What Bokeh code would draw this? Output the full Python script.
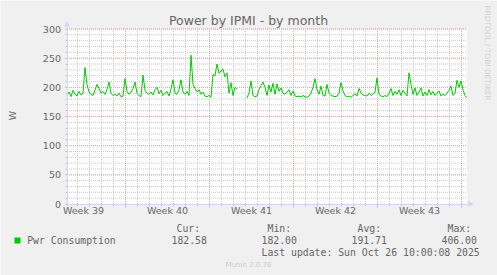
import math
from bokeh.plotting import figure
from bokeh.models import FixedTicker, Label, PolyAnnotation, BoxAnnotation, LinearAxis
from bokeh.embed import file_html
from bokeh.resources import INLINE

NaN = float("nan")

# Power readings (W), one sample every 4 hours over the month window
power_w = [
    186, 192, 184, 195, 188, 185, 193, 187, 190, 234,
    205, 192, 188, 186, 195, 205, 198, 190, 193, 188,
    196, 209, 190, 186, 188, 185, 190, 184, 185, 215,
    193, 188, 192, 198, 209, 190, 186, 184, 221, 195,
    190, 188, 192, 187, 196, 200, 189, 195, 186, 190,
    193, 185, 197, 213, 190, 188, 196, 213, 192, 188,
    193, 186, 255, 205, 198, 192, 196, 188, 192, 185,
    184, 186, 183, 222, 220, 240, 224, 228, 231, 218,
    225, 190, 208, 186, 200, 197, NaN, NaN, NaN, NaN,
    182, 190, 211, 186, 184, 185, 196, 203, 209, 200,
    186, 204, 192, 207, 188, 206, 193, 199, 190, 188,
    192, 196, 186, 194, 185, 184, 185, 184, 186, 184,
    183, 185, 190, 200, 215, 196, 188, 202, 186, 185,
    205, 190, 186, 185, 184, 185, 190, 208, 194, 186,
    184, 185, 183, 186, 189, 185, 198, 190, 187, 186,
    185, 190, 186, 188, 192, 216, 188, 185, 184, 186,
    184, 190, 198, 186, 193, 188, 196, 186, 195, 190,
    185, 225, 205, 188, 199, 186, 192, 199, 185, 192,
    186, 196, 187, 193, 186, 190, 194, 185, 188, 186,
    190, 195, 202, 186, 190, 212, 200, 211, 196, 186,
    182,
]
step_hours = 4
hours = [i * step_hours for i in range(len(power_w))]

week_labels = ["Week 39", "Week 40", "Week 41", "Week 42", "Week 43"]
week_label_hours = [33, 201, 369, 537, 705]
week_start_hours = [117, 285, 453, 621, 789]
day_hours = list(range(21, 800, 24))
y_major = [50, 100, 150, 200, 250, 300]
y_minor = list(range(10, 301, 10))
y_ticks = [0, 50, 100, 150, 200, 250, 300]

title_text = "Power by IPMI - by month"
y_label = "W"
legend_name = "Pwr Consumption"
stat_names = ["Cur:", "Min:", "Avg:", "Max:"]
stat_values = ["182.58", "182.00", "191.71", "406.00"]
last_update = "Last update: Sun Oct 26 10:00:08 2025"
footer = "Munin 2.0.76"
side_text = "RRDTOOL / TOBI OETIKER"

FONT = "DejaVu Sans"
MONO = "DejaVu Sans Mono"
TXT = "#666666"
AXIS = "#CFD6F8"
MGRID = "#EBA0A0"
GRID = "#C8C8C8"

X_END = 800
Y_END = 300
# the frame covers the whole canvas; the white plot area sits inside it
hx = 2.0            # hours per pixel
vy = 300.0 / 175.0  # watts per pixel
x0_px, y0_px = 66.5, 203.5
p = figure(width=497, height=275,
           x_range=(-x0_px * hx, (497 - x0_px) * hx),
           y_range=(-(275 - y0_px) * vy, y0_px * vy),
           output_backend="svg", toolbar_location=None, min_border=0,
           background_fill_color="#F0F0F0", border_fill_color="#F0F0F0",
           outline_line_color=None)
p.xgrid.visible = False
p.ygrid.visible = False

area = p.quad(left=[0], right=[X_END], bottom=[0], top=[Y_END],
              fill_color="white", line_color=None)
area.level = "image"

# grid lines
p.segment(x0=day_hours, y0=[0] * len(day_hours), x1=day_hours, y1=[Y_END] * len(day_hours),
          line_color=GRID, line_width=1, line_dash="1 1")
p.segment(x0=[0] * len(y_minor), y0=y_minor, x1=[X_END] * len(y_minor), y1=y_minor,
          line_color=GRID, line_width=1, line_dash="1 1")
p.segment(x0=week_start_hours, y0=[0] * len(week_start_hours), x1=week_start_hours,
          y1=[Y_END] * len(week_start_hours), line_color=MGRID, line_width=1, line_dash="1 1")
p.segment(x0=[0] * len(y_major), y0=y_major, x1=[X_END] * len(y_major), y1=y_major,
          line_color=MGRID, line_width=1, line_dash="1 1")

p.line(hours, power_w, line_color="#00CC00", line_width=1)

xa = p.xaxis[0]
xa.fixed_location = 0
xa.bounds = (0, X_END)
xa.ticker = FixedTicker(ticks=week_label_hours)
xa.major_label_overrides = {h: t for h, t in zip(week_label_hours, week_labels)}
xa.major_tick_line_color = None
xa.minor_tick_line_color = None
xa.major_tick_out = 0
xa.major_tick_in = 0
xa.major_label_standoff = 1
xa.major_label_text_font = FONT
xa.major_label_text_font_size = "9.5px"
xa.major_label_text_color = TXT
xa.axis_line_color = AXIS

xt = LinearAxis(fixed_location=0, bounds=(0, X_END),
                ticker=FixedTicker(ticks=week_start_hours, minor_ticks=day_hours),
                major_label_overrides={h: "" for h in week_start_hours},
                major_tick_out=3, major_tick_in=0, major_tick_line_color=MGRID,
                minor_tick_out=2, minor_tick_in=0, minor_tick_line_color=GRID,
                axis_line_color=AXIS)
p.add_layout(xt, "below")

ya = p.yaxis[0]
ya.fixed_location = 0
ya.bounds = (0, Y_END)
ya.ticker = FixedTicker(ticks=y_ticks, minor_ticks=y_minor)
ya.major_tick_out = 2
ya.major_tick_in = 0
ya.major_tick_line_color = MGRID
ya.minor_tick_out = 2
ya.minor_tick_in = 0
ya.minor_tick_line_color = GRID
ya.axis_line_color = AXIS
ya.major_label_standoff = 4
ya.major_label_text_font = FONT
ya.major_label_text_font_size = "9.5px"
ya.major_label_text_color = TXT

# axis arrows (screen coords, y up from the bottom of the canvas)
H = 275
p.add_layout(PolyAnnotation(xs=[63.5, 69.5, 66.5], ys=[H - 26, H - 26, H - 20.5],
                            xs_units="screen", ys_units="screen", fill_color=AXIS,
                            fill_alpha=1, line_color=None))
p.add_layout(PolyAnnotation(xs=[66, 67, 67, 66], ys=[H - 28, H - 28, H - 26, H - 26],
                            xs_units="screen", ys_units="screen", fill_color=AXIS,
                            fill_alpha=1, line_color=None))
p.add_layout(PolyAnnotation(xs=[468, 468, 473.5], ys=[H - 200.5, H - 206.5, H - 203.5],
                            xs_units="screen", ys_units="screen", fill_color=AXIS,
                            fill_alpha=1, line_color=None))
p.add_layout(PolyAnnotation(xs=[466, 468, 468, 466], ys=[H - 203, H - 203, H - 204, H - 204],
                            xs_units="screen", ys_units="screen", fill_color=AXIS,
                            fill_alpha=1, line_color=None))


def lab(x, y, text, font=FONT, size="9.5px", align="left", color=TXT, angle=0.0):
    # y is the canvas row (from the top) of the text's visual centre
    p.add_layout(Label(x=x, y=H - y, x_units="screen", y_units="screen", text=text,
                       text_font=font, text_font_size=size, text_align=align,
                       text_baseline="middle", text_color=color, angle=angle))


lab(248, 19.5, title_text, size="12.5px", align="center")
lab(11.5, 115, y_label, size="9.5px", align="center", angle=math.pi / 2)

p.add_layout(BoxAnnotation(left=14, right=20, top=H - 237, bottom=H - 243,
                           left_units="screen", right_units="screen",
                           top_units="screen", bottom_units="screen",
                           fill_color="#00CC00", fill_alpha=1, line_color=None))
lab(26.7, 239.5, legend_name, font=MONO, size="9.8px")
for x, t in zip([176, 267, 357, 447], stat_names):
    lab(x, 227.5, t, font=MONO, size="9.8px")
for x, t in zip([171, 261, 351, 441], stat_values):
    lab(x, 239.5, t, font=MONO, size="9.8px")
lab(261, 251.5, last_update, font=MONO, size="9.8px")
lab(248, 264.5, footer, size="7px", align="center", color="#CCCCCC")
lab(487, 52.5, side_text, size="7.4px", align="center", color="#D0D0D0", angle=-math.pi / 2)

open("out.html", "w").write(file_html(p, INLINE))
